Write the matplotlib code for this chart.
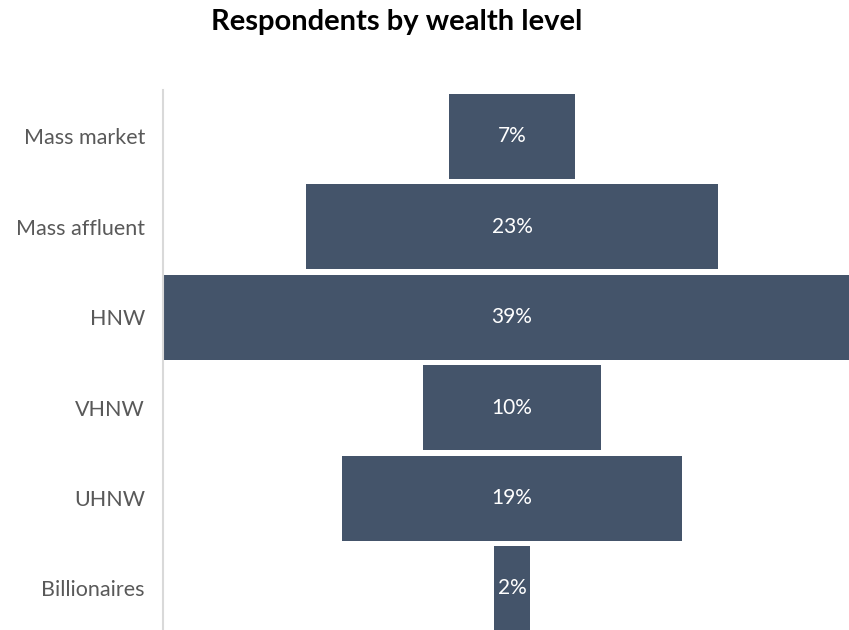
import matplotlib
matplotlib.use("Agg")
import matplotlib.pyplot as plt

categories = ["Mass market", "Mass affluent", "HNW", "VHNW", "UHNW", "Billionaires"]
shares = [7, 23, 39, 10, 19, 2]

plt.rcParams['font.family'] = ['Lato', 'DejaVu Sans']

fig = plt.figure(figsize=(8.49, 6.3), dpi=100)
ax = fig.add_axes([163/849, 0, 1 - 163/849, 540/630])

ypos = list(range(len(categories)))
lefts = [-v / 2 for v in shares]
ax.barh(ypos, shares, left=lefts, height=0.94, color="#44546A")
for y, v in zip(ypos, shares):
    ax.text(0, y, f"{v}%", ha="center", va="center", color="white", fontsize=15)

# widest bar is cut off on the right
ax.set_xlim(-19.5, 18.83)
ax.set_ylim(5.46, -0.514)
ax.set_yticks(ypos)
ax.set_yticklabels(categories, fontsize=15.5, color="#595959")
ax.tick_params(axis="y", length=0, pad=13)
ax.set_xticks([])
for s in ["top", "right", "bottom"]:
    ax.spines[s].set_visible(False)
ax.spines["left"].set_color("#D9D9D9")
ax.spines["left"].set_linewidth(1.5)

fig.text(397/849, 1 - 22/630, "Respondents by wealth level", ha="center", va="center",
         fontsize=21, fontweight="bold", color="black")

fig.savefig("out.png", dpi=100)
